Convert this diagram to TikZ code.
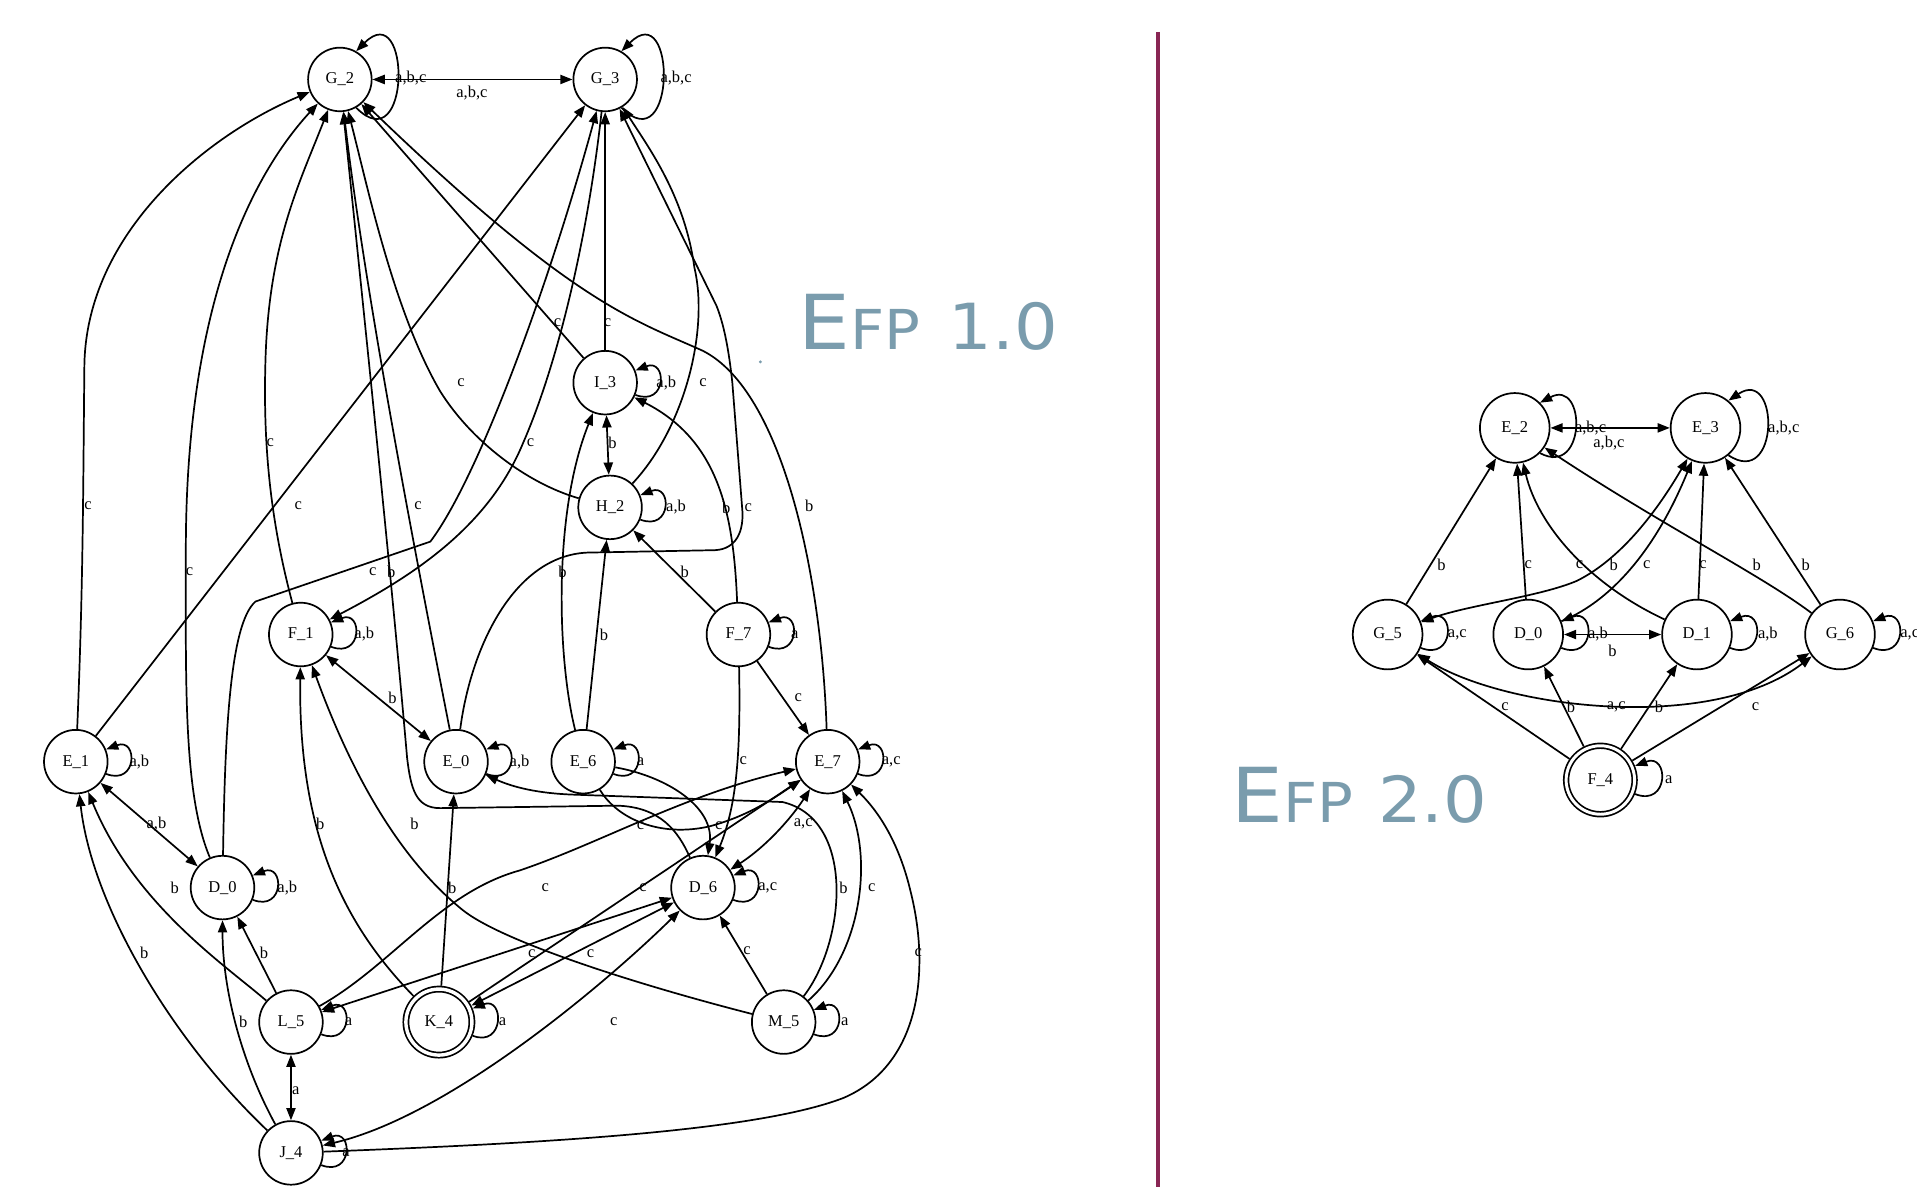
\documentclass[tikz,border=0pt]{standalone}
\usepackage{fontspec}
\setmainfont{Liberation Serif}
\newfontfamily\titlefont[FakeStretch=1.08]{DejaVu Sans}
\usetikzlibrary{arrows.meta}
\definecolor{efpblue}{RGB}{122,156,173}
\definecolor{rulecol}{RGB}{137,38,84}
\newcommand\lblfont{\fontsize{13.5}{15}\selectfont}
\begin{document}
\begin{tikzpicture}[x=1pt,y=-1pt,
  st/.style={circle, draw, line width=1.4pt, minimum size=52pt, inner sep=0pt, font=\lblfont},
  rst/.style={st, minimum size=57pt},
  acc/.style={st, double, double distance=2.8pt, minimum size=54pt, outer sep=2.8pt},
  racc/.style={st, double, double distance=2.4pt, minimum size=56pt, outer sep=2.6pt},
  e/.style={line width=1.4pt, -{Triangle[length=10pt,width=7.5pt]}},
  be/.style={line width=1.4pt, {Triangle[length=10pt,width=7.5pt]}-{Triangle[length=10pt,width=7.5pt]}},
  lab/.style={inner sep=0pt, font=\lblfont},
  ttl/.style={anchor=base west, inner sep=0pt, text=efpblue}]
\useasboundingbox (0,0) rectangle (1568,971);
\fill[white] (0,0) rectangle (1568,971);

% ---------- titles and divider ----------
\node[ttl] (t1a) at (653,286) {\titlefont\fontsize{62}{62}\selectfont E\fontsize{45}{45}\selectfont FP};
\node[ttl] (t1b) at (776,286) {\titlefont\fontsize{52}{52}\selectfont 1.0};
\node[ttl] (t2a) at (1007,673) {\titlefont\fontsize{62}{62}\selectfont E\fontsize{45}{45}\selectfont FP};
\node[ttl] (t2b) at (1127,673) {\titlefont\fontsize{52}{52}\selectfont 2.0};
\fill[efpblue] (622,296) circle (1.3);
\draw[rulecol, line width=3.3pt] (947,26) -- (947,971);

% ---------- EFP 1.0 states ----------
\node[st] (G2) at (278,65) {G\_2};
\node[st] (G3) at (495,65) {G\_3};
\node[st] (I3) at (495,313) {I\_3};
\node[st] (H2) at (499,415) {H\_2};
\node[st] (F1) at (246,519) {F\_1};
\node[st] (F7) at (604,519) {F\_7};
\node[st] (E1) at (62,623) {E\_1};
\node[st] (E0) at (373,623) {E\_0};
\node[st] (E6) at (477,623) {E\_6};
\node[st] (E7) at (677,623) {E\_7};
\node[st] (D0) at (182,726) {D\_0};
\node[st] (D6) at (575,726) {D\_6};
\node[st] (L5) at (238,836) {L\_5};
\node[acc] (K4) at (359,836) {K\_4};
\node[st] (M5) at (641,836) {M\_5};
\node[st] (J4) at (238,943) {J\_4};

% top pair
\draw[be] (G2) -- (G3);
\node[lab] (lG2G3) at (386,76) {a,b,c};
\draw[e] (G2.-60) .. controls +(45,45) and +(45,-45) .. (G2.60);
\node[lab] (lG2) at (336,64) {a,b,c};
\draw[e] (G3.-60) .. controls +(45,45) and +(45,-45) .. (G3.60);
\node[lab] (lG3) at (553,64) {a,b,c};

% into G_2
\draw[e] (E1) .. controls (68,480) and (68,400) .. (69,300) .. controls (70,190) and (170,110) .. (G2);
\node[lab] (lE1G2) at (72,414) {c};
\draw[e] (D0) .. controls (150,650) and (152,560) .. (152,450) .. controls (152,260) and (200,150) .. (G2);
\node[lab] (lD0G2) at (155,468) {c};
\draw[e] (F1) .. controls (225,440) and (215,380) .. (217,300) .. controls (219,200) and (245,150) .. (G2);
\node[lab] (lF1G2) at (221,362) {c};
\draw[e] (E0) .. controls (345,480) and (300,250) .. (G2);
\node[lab] (lE0G2) at (342,414) {c};
\draw[e] (H2) .. controls (430,395) and (385,360) .. (360,320) .. controls (322,255) and (300,150) .. (G2);
\node[lab] (lH2G2) at (377,313) {c};
\draw[e] (I3) -- (G2);
\node[lab] (lI3G2) at (456,264) {c};
\draw[e] (E7) .. controls (672,470) and (640,320) .. (575,287) .. controls (520,262) and (470,250) .. (G2);
\node[lab] (lE7G2) at (662,414) {b};
\draw[e] (D6) .. controls (555,680) and (540,660) .. (505,659) -- (360,661) .. controls (340,661) and (336,645) .. (333,620) .. controls (320,470) and (297,250) .. (G2);
\node[lab] (lD6G2) at (320,468) {b};

% into G_3
\draw[e] (E1) -- (G3);
\node[lab] (lE1G3) at (244,414) {c};
\draw[e] (D0) .. controls (184,600) and (188,510) .. (209,492) -- (352,443) .. controls (392,390) and (450,230) .. (G3);
\node[lab] (lD0G3) at (305,468) {c};
\draw[e] (G3) .. controls (480,200) and (455,300) .. (428,362) .. controls (400,430) and (340,470) .. (F1);
\node[lab] (lG3F1) at (434,362) {c};
\draw[e] (I3) -- (G3);
\node[lab] (lI3G3) at (497,264) {c};
\draw[e] (H2) .. controls (560,350) and (580,270) .. (568,219) .. controls (560,160) and (530,120) .. (G3);
\node[lab] (lH2G3) at (575,313) {c};
\draw[e] (E0) .. controls (385,530) and (420,455) .. (480,452) -- (585,450) .. controls (602,449) and (609,435) .. (607,415) -- (599,313) .. controls (596,285) and (592,265) .. (586,250) -- (G3);
\node[lab] (lE0G3) at (612,415) {c};

% middle part
\draw[be] (I3) -- (H2);
\node[lab] (lI3H2) at (501,362) {b};
\draw[e] (E6) .. controls (456,540) and (452,420) .. (I3);
\node[lab] (lE6I3) at (460,468) {b};
\draw[e] (E6) -- (H2);
\node[lab] (lE6H2) at (494,519) {b};
\draw[e] (F7) -- (H2);
\node[lab] (lF7H2) at (560,468) {b};
\draw[e] (F7) .. controls (600,420) and (588,360) .. (I3);
\node[lab] (lF7I3) at (594,415) {b};
\draw[e] (F7) -- (E7);
\node[lab] (lF7E7) at (653,571) {c};
\draw[e] (F7) .. controls (606,620) and (602,660) .. (D6);
\node[lab] (lF7D6) at (608,622) {c};
\draw[be] (F1) -- (E0);
\node[lab] (lF1E0) at (321,571) {b};
\draw[e] (K4) .. controls (280,755) and (244,680) .. (F1);
\node[lab] (lK4F1) at (262,674) {b};
\draw[e] (M5) .. controls (520,805) and (410,770) .. (378,744) .. controls (330,705) and (290,640) .. (F1);
\node[lab] (lM5F1) at (339,674) {b};

% lower left
\draw[be] (E1) -- (D0);
\node[lab] (lE1D0) at (128,674) {a,b};
\draw[e] (L5) .. controls (185,790) and (110,740) .. (E1);
\node[lab] (lL5E1) at (143,726) {b};
\draw[e] (J4) .. controls (140,850) and (75,740) .. (E1);
\node[lab] (lJ4E1) at (118,779) {b};
\draw[e] (L5) -- (D0);
\node[lab] (lL5D0) at (216,779) {b};
\draw[e] (J4) .. controls (198,870) and (182,810) .. (D0);
\node[lab] (lJ4D0) at (199,836) {b};
\draw[be] (L5) -- (J4);
\node[lab] (lL5J4) at (242,892) {a};
\draw[e] (K4) -- (E0);
\node[lab] (lK4E0) at (370,726) {b};

% lower right
\draw[e] (M5) .. controls (692,770) and (700,670) .. (640,656) -- (470,650) .. controls (440,649) and (420,644) .. (E0);
\node[lab] (lM5E0) at (690,726) {b};
\draw[e] (E6) .. controls (505,670) and (540,685) .. (580,676) .. controls (610,668) and (630,655) .. (E7);
\node[lab] (lE6E7) at (524,675) {c};
\draw[e] (E6) .. controls (545,635) and (585,660) .. (D6);
\node[lab] (lE6D6) at (588,675) {c};
\draw[be] (E7) .. controls (650,665) and (630,690) .. (D6);
\node[lab] (lE7D6) at (657,674) {a,c};
\draw[e] (M5) -- (D6);
\node[lab] (lM5D6) at (611,778) {c};
\draw[e] (M5) .. controls (705,780) and (715,700) .. (E7);
\node[lab] (lM5E7) at (713,726) {c};
\draw[e] (J4) .. controls (450,935) and (620,925) .. (690,898) .. controls (755,870) and (760,790) .. (745,730) .. controls (738,700) and (725,670) .. (E7);
\node[lab] (lJ4E7) at (751,779) {c};
\draw[be] (J4) .. controls (370,912) and (500,800) .. (D6);
\node[lab] (lJ4D6) at (502,836) {c};
\draw[e] (L5) .. controls (320,790) and (360,730) .. (425,712) .. controls (490,690) and (560,650) .. (E7);
\node[lab] (lL5E7) at (446,726) {c};
\draw[be] (L5) -- (D6);
\node[lab] (lL5D6) at (435,780) {c};
\draw[be] (K4) -- (D6);
\node[lab] (lK4D6) at (483,780) {c};
\draw[e] (K4) -- (E7);
\node[lab] (lK4E7) at (526,726) {c};

% self loops
\foreach \s in {I3,H2,F1,F7,E1,E0,E6,E7,D0,D6,L5,K4,M5,J4}
  \draw[e] (\s.-22) .. controls +(26,10) and +(26,-10) .. (\s.22);
\node[lab] (lI3) at (545,313) {a,b};
\node[lab] (lH2) at (553,415) {a,b};
\node[lab] (lF1) at (298,519) {a,b};
\node[lab] (lF7) at (650,519) {a};
\node[lab] (lE1) at (114,623) {a,b};
\node[lab] (lE0) at (425,623) {a,b};
\node[lab] (lE6) at (524,623) {a};
\node[lab] (lE7) at (729,623) {a,c};
\node[lab] (lD0) at (235,726) {a,b};
\node[lab] (lD6) at (628,726) {a,c};
\node[lab] (lL5) at (285,836) {a};
\node[lab] (lK4) at (411,836) {a};
\node[lab] (lM5) at (691,836) {a};
\node[lab] (lJ4) at (283,943) {a};

% ---------- EFP 2.0 states ----------
\node[rst] (rE2) at (1239,350) {E\_2};
\node[rst] (rE3) at (1395,350) {E\_3};
\node[rst] (rG5) at (1135,519) {G\_5};
\node[rst] (rD0) at (1250,519) {D\_0};
\node[rst] (rD1) at (1388,519) {D\_1};
\node[rst] (rG6) at (1505,519) {G\_6};
\node[racc] (rF4) at (1309,638) {F\_4};

\draw[be] (rE2) -- (rE3);
\node[lab] (rlE2E3) at (1316,362) {a,b,c};
\draw[e] (rE2.-45) .. controls +(38,20) and +(38,-20) .. (rE2.45);
\node[lab] (rlE2) at (1301,350) {a,b,c};
\draw[e] (rE3.-50) .. controls +(42,28) and +(42,-28) .. (rE3.50);
\node[lab] (rlE3) at (1459,350) {a,b,c};

\draw[e] (rG5) -- (rE2);
\node[lab] (rlG5E2) at (1179,462) {b};
\draw[e] (rD0) -- (rE2);
\node[lab] (rlD0E2) at (1250,462) {c};
\draw[e] (rD1) .. controls (1300,478) and (1258,430) .. (rE2);
\node[lab] (rlD1E2) at (1292,462) {c};
\draw[be] (rG5) .. controls (1200,495) and (1260,488) .. (1290,475) .. controls (1330,455) and (1360,410) .. (rE3);
\node[lab] (rlG5E3) at (1320,462) {b};
\draw[e] (rD0) .. controls (1310,495) and (1350,460) .. (rE3);
\node[lab] (rlD0E3) at (1347,462) {c};
\draw[e] (rD1) -- (rE3);
\node[lab] (rlD1E3) at (1393,462) {c};
\draw[e] (rG6) .. controls (1440,470) and (1360,430) .. (rE2);
\node[lab] (rlG6E2) at (1437,462) {b};
\draw[e] (rG6) -- (rE3);
\node[lab] (rlG6E3) at (1477,462) {b};
\draw[be] (rD0) -- (rD1);
\node[lab] (rlD0D1) at (1319,532) {b};
\draw[e] (rF4) -- (rG5);
\node[lab] (rlF4G5) at (1231,578) {c};
\draw[e] (rF4) -- (rD0);
\node[lab] (rlF4D0) at (1285,578) {b};
\draw[e] (rF4) -- (rD1);
\node[lab] (rlF4D1) at (1357,578) {b};
\draw[e] (rF4) -- (rG6);
\node[lab] (rlF4G6) at (1436,578) {c};
\draw[be] (rG5) .. controls (1230,580) and (1400,600) .. (rG6);
\node[lab] (rlG5G6) at (1322,578) {a,c};

\foreach \s in {rG5,rD0,rD1,rG6,rF4}
  \draw[e] (\s.-22) .. controls +(28,11) and +(28,-11) .. (\s.22);
\node[lab] (rlG5) at (1192,519) {a,c};
\node[lab] (rlD0) at (1307,519) {a,b};
\node[lab] (rlD1) at (1446,519) {a,b};
\node[lab] (rlG6) at (1562,519) {a,c};
\node[lab] (rlF4) at (1365,638) {a};
\end{tikzpicture}
\end{document}
